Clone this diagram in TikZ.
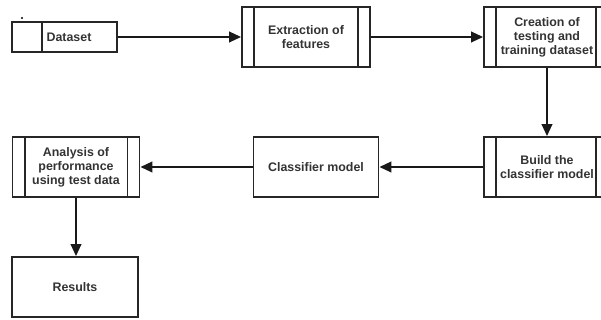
\documentclass[tikz,border=0pt]{standalone}
\usepackage{fontspec}
\setmainfont{Liberation Sans}
\usetikzlibrary{arrows.meta,calc}
\definecolor{txt}{HTML}{333333}
\tikzset{
  boxtext/.style={font=\fontsize{9.3pt}{10.6pt}\selectfont\bfseries, text=txt, align=center, inner sep=0pt},
  box/.style={draw=black!85, line width=1.4pt, rectangle, boxtext},
  flow/.style={draw=black!90, line width=1.4pt, -{Triangle[length=9pt,width=8pt]}},
  divider/.style={draw=black!85, line width=1.4pt}
}
\begin{document}
\begin{tikzpicture}[x=0.75pt,y=-0.75pt]
\useasboundingbox (0,0) rectangle (601,320);
\clip (0,0) rectangle (601,320);
% nodes
\node[box, minimum width=105*0.75pt, minimum height=30*0.75pt] (ds) at (64.5,37) {};
\node[boxtext] (dslabel) at (69,37) {Dataset};
\node[box, minimum width=128*0.75pt, minimum height=60*0.75pt] (ef) at (306,37) {Extraction of\\features};
\node[box, minimum width=124*0.75pt, minimum height=60*0.75pt] (ct) at (546,37) {};
\node[boxtext] (ctlabel) at (547,37) {Creation of\\testing and\\training dataset};
\node[box, minimum width=124*0.75pt, minimum height=60*0.75pt] (bc) at (546,167) {};
\node[boxtext] (bclabel) at (547,167) {Build the\\classifier model};
\node[box, minimum width=125*0.75pt, minimum height=60*0.75pt] (cm) at (316,167) {Classifier model};
\node[box, minimum width=127*0.75pt, minimum height=60*0.75pt] (ap) at (76,167) {Analysis of\\performance\\using test data};
\node[box, minimum width=126*0.75pt, minimum height=60*0.75pt] (rs) at (75,287) {Results};
% dividers
\draw[divider] ($(ds.north west)+(31,0)$) -- ($(ds.south west)+(31,0)$);
\draw[divider] ($(ef.north west)+(13,0)$) -- ($(ef.south west)+(13,0)$);
\draw[divider] ($(ef.north east)+(-13,0)$) -- ($(ef.south east)+(-13,0)$);
\draw[divider] ($(ct.north west)+(13,0)$) -- ($(ct.south west)+(13,0)$);
\draw[divider] ($(ct.north east)+(-13,0)$) -- ($(ct.south east)+(-13,0)$);
\draw[divider] ($(bc.north west)+(13,0)$) -- ($(bc.south west)+(13,0)$);
\draw[divider] ($(bc.north east)+(-13,0)$) -- ($(bc.south east)+(-13,0)$);
\draw[divider] ($(ap.north west)+(13,0)$) -- ($(ap.south west)+(13,0)$);
\draw[divider] ($(ap.north east)+(-13,0)$) -- ($(ap.south east)+(-13,0)$);
% small dot
\fill[black] (22,18) circle[radius=0.8pt];
% connectors
\draw[flow] (ds.east) -- (ds.east -| ef.west);
\draw[flow] (ef.east) -- (ef.east -| ct.west);
\draw[flow] (ct.south) ++(1,0) coordinate (cts) -- (cts |- bc.north);
\draw[flow] (bc.west) -- (bc.west -| cm.east);
\draw[flow] (cm.west) -- (cm.west -| ap.east);
\draw[flow] (ap.south) -- (ap.south |- rs.north);
\end{tikzpicture}
\end{document}
